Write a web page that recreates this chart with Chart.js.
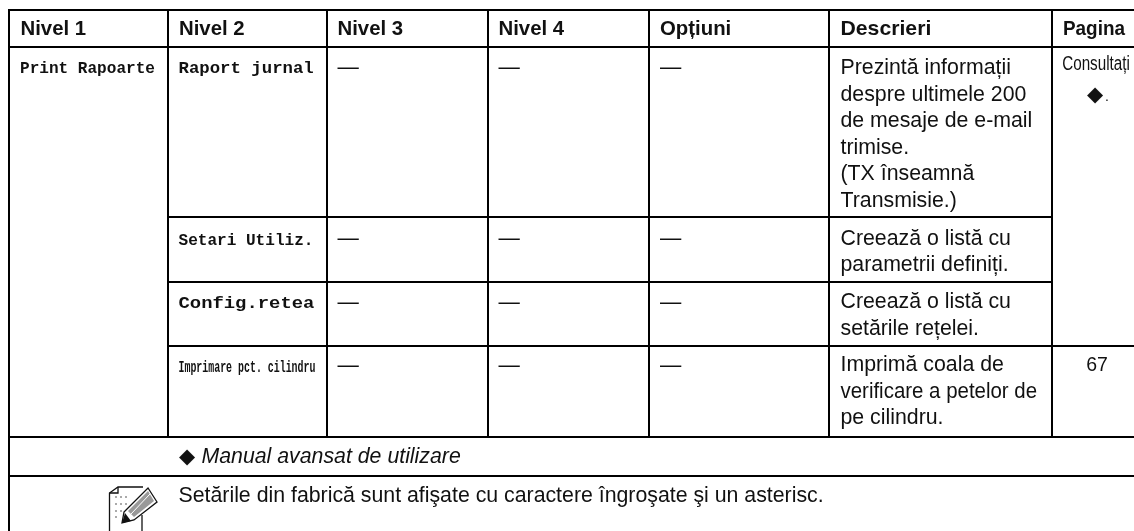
<!DOCTYPE html>
<html><head><meta charset="utf-8">
<script src="https://cdn.jsdelivr.net/npm/chart.js@4"></script>
<style>html,body{margin:0;padding:0;background:#fff}canvas{display:block}</style></head>
<body><canvas id="c" width="1134" height="531"></canvas>
<script>
const columnEdges=[9,168,327,488,649,829,1052,1134];
const rowEdges=[10,47,217,282,346,437,476,531];
const columnHeaders=["Nivel 1","Nivel 2","Nivel 3","Nivel 4","Opțiuni","Descrieri","Pagina"];
const level1=["Print Rapoarte"];
const level2=["Raport jurnal","Setari Utiliz.","Config.retea","Imprimare pct. cilindru"];
const placeholder="—";
const descriptions=[
 ["Prezintă informații","despre ultimele 200","de mesaje de e-mail","trimise.","(TX înseamnă","Transmisie.)"],
 ["Creează o listă cu","parametrii definiți."],
 ["Creează o listă cu","setările rețelei."],
 ["Imprimă coala de","verificare a petelor de","pe cilindru."]];
const pageNote=["Consultați","◆","."];
const pageNumber="67";
const manualNote=["◆","Manual avansat de utilizare"];
const footerNote="Setările din fabrică sunt afişate cu caractere îngroşate şi un asterisc.";
const E=columnEdges,R=rowEdges;
const rules=[];
const rule=(x1,y1,x2,y2)=>rules.push({x1,y1,x2,y2});
rule(E[0],R[0],E[7],R[0]);rule(E[0],R[1],E[7],R[1]);
rule(E[1],R[2],E[6],R[2]);rule(E[1],R[3],E[6],R[3]);
rule(E[1],R[4],E[7],R[4]);
rule(E[0],R[5],E[7],R[5]);rule(E[0],R[6],E[7],R[6]);
rule(E[0],R[0],E[0],R[7]);
for(let i=1;i<=6;i++)rule(E[i],R[0],E[i],R[5]);
const SANS='"Liberation Sans",Arial,sans-serif',MONO='"Liberation Mono",monospace';
const texts=[];
const t=(s,x,y,font,sx,align)=>texts.push({s,x,y,font,sx:sx||1,align:align||'left'});
const headX=[20.5,179,337.5,498.5,660,840.5,1063],headS=[.97,.97,.97,.97,.97,1.01,.9];
columnHeaders.forEach((h,i)=>t(h,headX[i],35,'bold 21px '+SANS,headS[i]));
const rowBase=[73,244.5,308,371.5];
t(level1[0],20,73,'bold 17px '+MONO,.945);
t(level2[0],178.5,73,'bold 17px '+MONO,1.02);
t(level2[1],178.5,244.5,'bold 17px '+MONO,.945);
t(level2[2],178.5,308,'bold 17px '+MONO,1.11);
t(level2[3],178.5,371.5,'bold 16px '+MONO,.62);
rowBase.forEach(y=>{[2,3,4].forEach(c=>t(placeholder,headX[c],y+.5,'21.3px '+SANS));});
const descBase=[74,244.5,308,371];
descriptions.forEach((d,i)=>d.forEach((l,j)=>t(l,840.5,descBase[i]+j*26.5,'21.3px '+SANS,(i==3&&j==1)?.96:1)));
t(pageNote[0],1096,70,'19.5px '+SANS,.78,'center');
t(pageNote[1],1087,101,'21px '+SANS);
t(pageNote[2],1105,101,'14px '+SANS);
t(pageNumber,1097,371,'19.5px '+SANS,1,'center');
t(manualNote[0],179,463,'21px '+SANS);
t(manualNote[1],201.5,463,'italic 21.3px '+SANS);
t(footerNote,178.5,502,'21.3px '+SANS);
const textPlugin={id:'tableText',afterDraw(ch){
 const c=ch.ctx,x=ch.scales.x,y=ch.scales.y;c.fillStyle='#111';c.textBaseline='alphabetic';
 texts.forEach(o=>{c.save();c.font=o.font;c.textAlign=o.align;c.translate(x.getPixelForValue(o.x),y.getPixelForValue(o.y));c.scale(o.sx,1);c.fillText(o.s,0,0);c.restore();});
 }};
const iconPlugin={id:'noteIcon',afterDatasetsDraw(ch){
 const c=ch.ctx,x=ch.scales.x,y=ch.scales.y;const X=v=>x.getPixelForValue(v),Y=v=>y.getPixelForValue(v);
 const path=(p,close)=>{c.beginPath();p.forEach((q,i)=>i?c.lineTo(X(q[0]),Y(q[1])):c.moveTo(X(q[0]),Y(q[1])));if(close)c.closePath();};
 c.save();c.strokeStyle='#111';c.lineWidth=1.3;
 path([[109.5,531],[109.5,493],[118,487],[143,487]]);c.stroke();
 path([[109.5,493],[118,493],[118,487]]);c.stroke();
 path([[142,531],[142,515]]);c.stroke();
 c.fillStyle='#fff';path([[124,512],[148,488],[157,502],[134,520],[122,523]],true);c.fill();
 c.fillStyle='#999';path([[128,511],[148,491],[154,501],[134,517]],true);c.fill();
 c.strokeStyle='#111';path([[124,512],[148,488],[157,502],[134,520],[122,523]],true);c.stroke();
 c.strokeStyle='#fff';c.lineWidth=1;path([[131,514],[150,494]]);c.stroke();
 c.fillStyle='#111';path([[122,523],[131,521],[125,513]],true);c.fill();
 c.fillStyle='#aaa';[[115,496],[120,496],[125,496],[115,503],[120,503],[125,503],[115,510],[120,510],[115,516]].forEach(p=>c.fillRect(X(p[0]),Y(p[1]),2,2));
 c.restore();}};
new Chart(document.getElementById('c'),{type:'scatter',
 data:{datasets:rules.map(r=>({data:[{x:r.x1,y:r.y1},{x:r.x2,y:r.y2}],showLine:true,borderColor:'#000',borderWidth:2,pointRadius:0,borderCapStyle:'square'}))},
 options:{responsive:false,animation:false,layout:{padding:0},plugins:{legend:{display:false},tooltip:{enabled:false}},
  scales:{x:{type:'linear',min:0,max:1134,display:false},y:{type:'linear',min:0,max:531,reverse:true,display:false}}},
 plugins:[iconPlugin,textPlugin]});
</script></body></html>
